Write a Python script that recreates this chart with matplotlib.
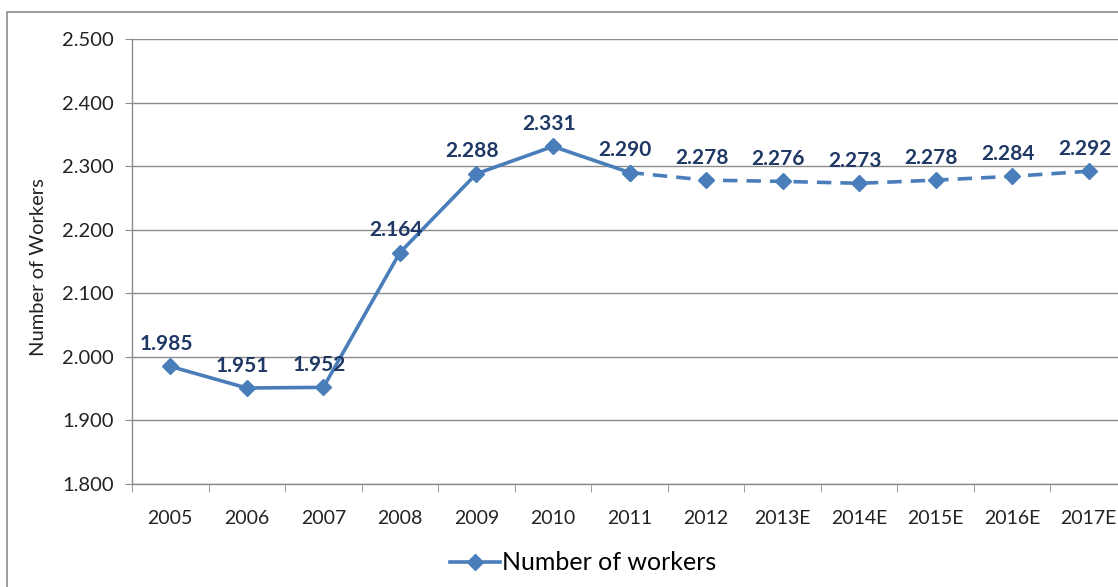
import matplotlib.pyplot as plt
from matplotlib.patches import Rectangle

years = ['2005', '2006', '2007', '2008', '2009', '2010', '2011', '2012',
         '2013E', '2014E', '2015E', '2016E', '2017E']
workers = [1.985, 1.951, 1.952, 2.164, 2.288, 2.331, 2.290, 2.278,
           2.276, 2.273, 2.278, 2.284, 2.292]
n_actual = 7  # 2005..2011 drawn solid, the rest dashed

plt.rcParams['font.family'] = ['Lato', 'DejaVu Sans']

fig = plt.figure(figsize=(11.18, 5.87), dpi=100)
W, H = 1118, 587
ax = fig.add_axes([132 / W, 1 - 484 / H, (1127 - 132) / W, (484 - 39) / H])

# outer chart border (clipped on right and bottom like the reference)
fig.patches.append(Rectangle((7 / W, -0.05), 1.2, 1 - 12 / H + 0.05,
                             transform=fig.transFigure, fill=False,
                             edgecolor='#8c8c8c', linewidth=1.2))

blue = '#4a7ebb'
x = list(range(len(years)))
ax.plot(x[:n_actual], workers[:n_actual], color=blue, linewidth=2.6,
        marker='D', markersize=8.5, zorder=3)
ax.plot(x[n_actual - 1:], workers[n_actual - 1:], color=blue, linewidth=2.6,
        linestyle=(0, (4, 2.5)), marker='D', markersize=8.5, zorder=3)

for xi, v in zip(x, workers):
    ax.annotate(f'{v:.3f}', (xi, v), xytext=(-3, 9), textcoords='offset points',
                ha='center', va='bottom', fontsize=15, fontweight='bold',
                color='#1f3864', zorder=4)

ax.set_xlim(-0.5, len(years) - 0.5)
ax.set_ylim(1.8, 2.5)
ax.set_yticks([1.8, 1.9, 2.0, 2.1, 2.2, 2.3, 2.4, 2.5])
ax.set_yticklabels(['1.800', '1.900', '2.000', '2.100', '2.200', '2.300',
                    '2.400', '2.500'])
ax.set_xticks(x)
ax.set_xticklabels(years)
ax.set_xticks([i - 0.5 for i in range(len(years) + 1)], minor=True)
ax.tick_params(axis='x', which='major', length=0, pad=19, labelsize=14,
               colors='#222222')
ax.tick_params(axis='x', which='minor', length=6, color='#8c8c8c', direction='out')
ax.tick_params(axis='y', length=5, color='#8c8c8c', pad=8, labelsize=14.5,
               colors='#222222')
ax.tick_params(axis='y', color='#8c8c8c')

ax.grid(axis='y', color='#8c8c8c', linewidth=1)
ax.set_axisbelow(True)
for s in ['top', 'right']:
    ax.spines[s].set_visible(False)
for s in ['left', 'bottom']:
    ax.spines[s].set_color('#8c8c8c')
    ax.spines[s].set_linewidth(1)

fig.text(39 / W, 1 - 267 / H, 'Number of Workers', rotation=90, ha='center',
         va='center', fontsize=14.5, color='#222222')

handle, = ax.plot([], [], color=blue, linewidth=2.6, marker='D', markersize=8.5)
fig.legend([handle], ['Number of workers'], loc='center',
           bbox_to_anchor=(583 / W, 1 - 563 / H), frameon=False,
           fontsize=18, handlelength=2.0, handletextpad=0.05)

fig.savefig('out.png', dpi=100)
